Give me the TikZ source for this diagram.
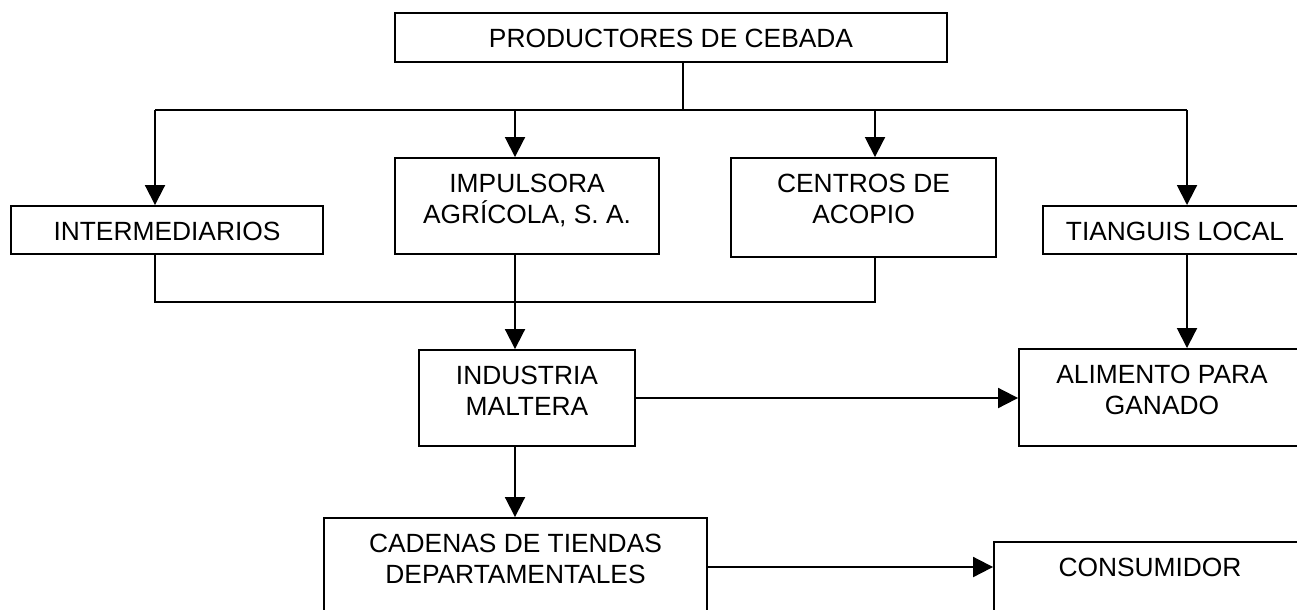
\documentclass[tikz,border=0pt]{standalone}
\usepackage{fontspec}
\setmainfont{Liberation Sans}
\usepackage{tikz}
\usetikzlibrary{arrows.meta, positioning}

\begin{document}
\begin{tikzpicture}[
    x=0.02cm, y=-0.02cm,
    box/.style={rectangle, draw=black, line width=1.1pt, inner sep=0pt},
    txt/.style={inner sep=0pt, align=center, font=\fontsize{15}{17.5}\selectfont},
    arrow/.style={-{Triangle[length=0.4cm, width=0.4cm]}, line width=1.1pt}
]
    \useasboundingbox (0,0) rectangle (1297,609);

    % Top level
    \node[box, minimum width=11.04cm, minimum height=0.98cm] (prod) at (671, 37.5) {};
    \node[txt, below=0.33cm of prod.north] (prodtxt) {PRODUCTORES DE CEBADA};

    % Second level
    \node[box, minimum width=6.24cm, minimum height=0.96cm] (inter) at (167, 230) {};
    \node[txt, below=0.33cm of inter.north] (intertxt) {INTERMEDIARIOS};

    \node[box, minimum width=5.28cm, minimum height=1.92cm] (impul) at (527, 206) {};
    \node[txt, below=0.33cm of impul.north] (impultxt) {IMPULSORA\\AGRÍCOLA, S. A.};

    \node[box, minimum width=5.30cm, minimum height=1.98cm] (centros) at (863.5, 207.5) {};
    \node[txt, below=0.33cm of centros.north] (centrostxt) {CENTROS DE\\ACOPIO};

    \node[box, minimum width=5.28cm, minimum height=0.96cm] (tianguis) at (1175, 230) {};
    \node[txt, below=0.33cm of tianguis.north] (tianguistxt) {TIANGUIS LOCAL};

    % Third level
    \node[box, minimum width=4.32cm, minimum height=1.92cm] (industria) at (527, 398) {};
    \node[txt, below=0.33cm of industria.north] (industriatxt) {INDUSTRIA\\MALTERA};

    \node[box, minimum width=5.72cm, minimum height=1.94cm] (alimento) at (1162, 397.5) {};
    \node[txt, below=0.33cm of alimento.north] (alimentotxt) {ALIMENTO PARA\\GANADO};

    % Bottom level
    \node[box, minimum width=7.66cm, minimum height=1.96cm] (cadenas) at (515.5, 567) {};
    \node[txt, below=0.33cm of cadenas.north] (cadenastxt) {CADENAS DE TIENDAS\\DEPARTAMENTALES};

    \node[box, minimum width=6.24cm, minimum height=1.94cm] (consum) at (1150, 590.5) {};
    \node[txt, below=0.33cm of consum.north] (consumtxt) {CONSUMIDOR};

    % Lanes
    \coordinate (split) at (683, 110);
    \coordinate (lane1) at (155, 110);
    \coordinate (lane2) at (515, 110);
    \coordinate (lane3) at (875, 110);
    \coordinate (lane4) at (1187, 110);
    \coordinate (join) at (155, 302);

    % Arrows
    \draw[line width=1.1pt] (prod.south -| split) -- (split);
    \draw[line width=1.1pt] (lane1) -- (lane4);
    \draw[arrow] (lane1) -- (lane1 |- inter.north);
    \draw[arrow] (lane2) -- (lane2 |- impul.north);
    \draw[arrow] (lane3) -- (lane3 |- centros.north);
    \draw[arrow] (lane4) -- (lane4 |- tianguis.north);

    \draw[line width=1.1pt] (lane1 |- inter.south) -- (join) -- (lane3 |- join) -- (lane3 |- centros.south);
    \draw[arrow] (lane2 |- impul.south) -- (lane2 |- industria.north);
    \draw[arrow] (lane4 |- tianguis.south) -- (lane4 |- alimento.north);
    \draw[arrow] (industria.east) -- (industria.east -| alimento.west);
    \draw[arrow] (lane2 |- industria.south) -- (lane2 |- cadenas.north);
    \draw[arrow] (cadenas.east) -- (cadenas.east -| consum.west);

\end{tikzpicture}
\end{document}
